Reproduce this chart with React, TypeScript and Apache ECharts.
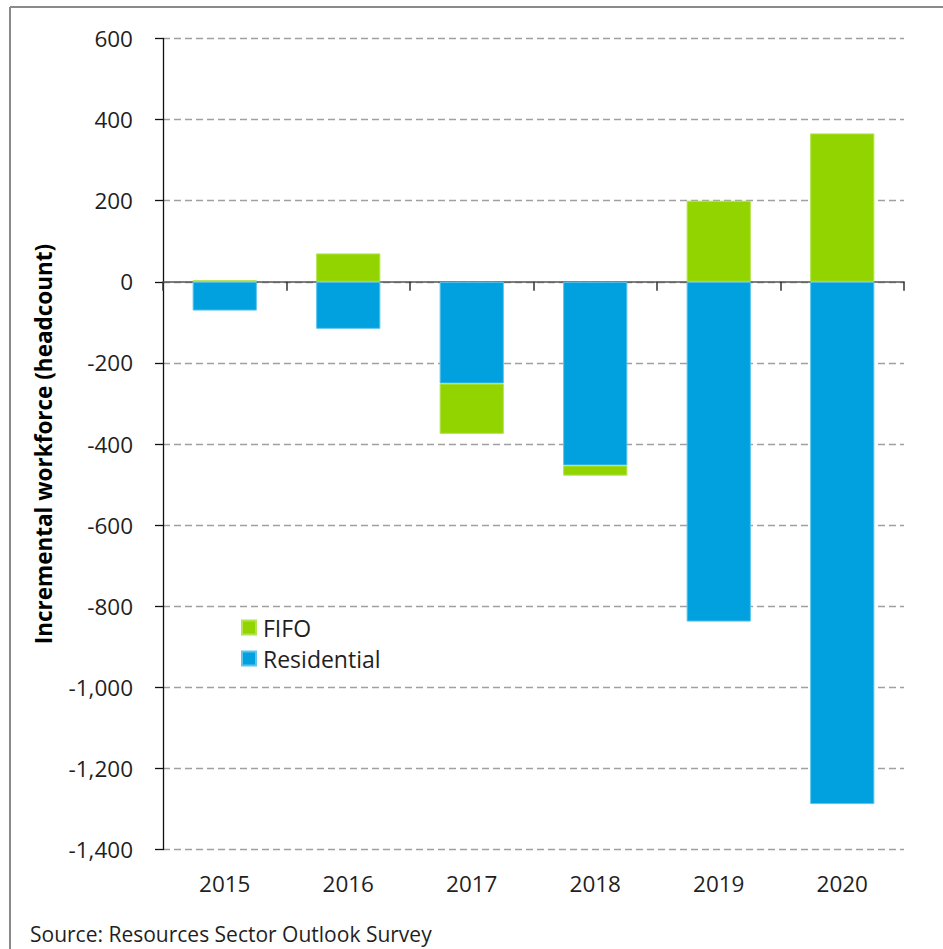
import React, { useEffect, useRef } from "react";
import * as echarts from "echarts";

const categories = ["2015", "2016", "2017", "2018", "2019", "2020"];
const residential = [-71, -116, -251, -453, -838, -1288];
const fifo = [4, 70, -124, -25, 200, 366];
const yMin = -1400;
const yMax = 600;
const yStep = 200;
const yTitle = "Incremental workforce (headcount)";
const sourceText = "Source: Resources Sector Outlook Survey";

const FONT = "'Open Sans', 'Noto Sans', sans-serif";
const TEXT = "#1f1f1f";

export default function App() {
  const ref = useRef<HTMLDivElement>(null);
  useEffect(() => {
    if (!ref.current) return;
    const chart = echarts.init(ref.current, undefined, { renderer: "svg" });
    const fmt = (v: number) => {
      const s = Math.abs(v).toLocaleString("en-US");
      return v < 0 ? "-" + s : s;
    };
    chart.setOption({
      animation: false,
      backgroundColor: "#ffffff",
      textStyle: { fontFamily: FONT },
      grid: { left: 163, right: 39, top: 38.5, bottom: 99.5, containLabel: false },
      legend: {
        orient: "vertical",
        left: 236,
        top: 611,
        itemWidth: 14,
        itemHeight: 14,
        itemGap: 8,
        icon: "rect",
        data: ["FIFO", "Residential"],
        textStyle: { fontFamily: FONT, fontSize: 23, color: TEXT, padding: [0, 0, 0, 2] },
      },
      xAxis: [
        {
          type: "category",
          data: categories,
          axisLine: { onZero: true, lineStyle: { color: "#555555", width: 1.5 } },
          axisTick: { show: true, inside: false, length: 9, lineStyle: { color: "#333333", width: 1.5 } },
          axisLabel: { show: false },
          splitLine: { show: false },
        },
        {
          type: "category",
          data: categories,
          position: "bottom",
          axisLine: { show: false, onZero: false },
          axisTick: { show: false },
          axisLabel: { show: true, fontFamily: FONT, fontSize: 22.5, color: TEXT, margin: 22 },
          splitLine: { show: false },
        },
      ],
      yAxis: {
        type: "value",
        min: yMin,
        max: yMax,
        interval: yStep,
        axisLine: { show: true, lineStyle: { color: "#111111", width: 1.3 } },
        axisTick: { show: true, inside: false, length: 8, lineStyle: { color: "#111111", width: 1.3 } },
        axisLabel: { fontFamily: FONT, fontSize: 22.5, color: TEXT, margin: 30, formatter: fmt },
        splitLine: { show: true, lineStyle: { color: "#a0a0a0", width: 1.3, type: [7, 4] } },
      },
      series: [
        {
          name: "Residential",
          type: "bar",
          stack: "total",
          xAxisIndex: 0,
          data: residential,
          barWidth: "52%",
          itemStyle: { color: "#00A1DE", borderColor: "#5cc4ec", borderWidth: 1 },
        },
        {
          name: "FIFO",
          type: "bar",
          stack: "total",
          xAxisIndex: 0,
          data: fifo,
          barWidth: "52%",
          itemStyle: { color: "#92D400", borderColor: "#b4e350", borderWidth: 1 },
        },
      ],
      graphic: [
        { type: "line", shape: { x1: 10, y1: 7, x2: 943, y2: 7 }, style: { stroke: "#8a8a8a", lineWidth: 2 } },
        { type: "line", shape: { x1: 10, y1: 7, x2: 10, y2: 949 }, style: { stroke: "#8a8a8a", lineWidth: 2 } },
        {
          type: "text",
          x: 43,
          y: 444,
          rotation: Math.PI / 2,
          style: {
            text: yTitle,
            fontFamily: FONT,
            fontSize: 22.5,
            fontWeight: "bold",
            fill: "#000000",
            align: "center",
            verticalAlign: "middle",
          },
        },
        {
          type: "text",
          x: 30,
          y: 934,
          style: {
            text: sourceText,
            fontFamily: FONT,
            fontSize: 21,
            fill: TEXT,
            align: "left",
            verticalAlign: "middle",
          },
        },
      ],
    });
    return () => chart.dispose();
  }, []);
  return (
    <div
      ref={ref}
      style={{ position: "fixed", left: 0, top: 0, width: 943, height: 949, background: "#fff" }}
    />
  );
}
